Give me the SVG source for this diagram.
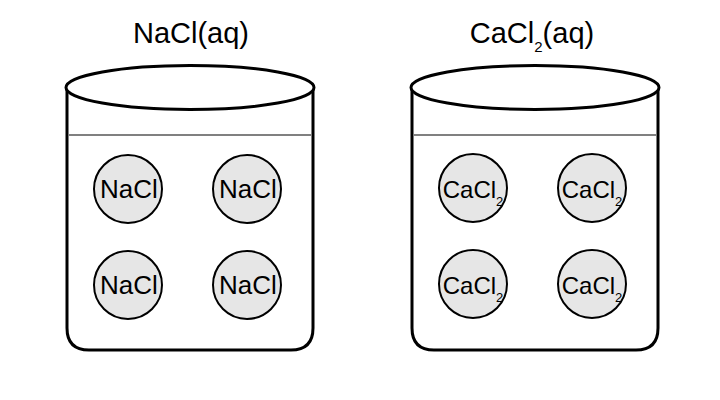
<svg xmlns="http://www.w3.org/2000/svg" width="720" height="400" viewBox="0 0 720 400">
<style>
.wall{fill:#fff;stroke:#000;stroke-width:3}
.rim{fill:#fff;stroke:#000;stroke-width:3}
.water{stroke:#808080;stroke-width:2}
.p{fill:#e6e6e6;stroke:#000;stroke-width:2}
.t{font-family:"Liberation Sans",Arial,sans-serif;fill:#000;text-anchor:middle}
.title{font-size:29px}
.na{font-size:26px}
.ca{font-size:24px}
.sub{font-size:13px}
</style>
<rect width="720" height="400" fill="#fff"/>
<g id="beaker-nacl">
<path class="wall" d="M67,88 V328 Q67,350 89,350 H291 Q313,350 313,328 V88"/>
<line class="water" x1="68" y1="135" x2="312" y2="135"/>
<ellipse class="rim" cx="190" cy="87.5" rx="124" ry="22"/>
<text class="t title" x="191" y="43">NaCl(aq)</text>
</g>
<g id="beaker-cacl2">
<path class="wall" d="M412,88 V328 Q412,350 434,350 H636 Q658,350 658,328 V88"/>
<line class="water" x1="413" y1="135" x2="657" y2="135"/>
<ellipse class="rim" cx="535" cy="87.5" rx="124" ry="22"/>
<text class="t title" x="532" y="43">CaCl<tspan font-size="15" dy="9">2</tspan><tspan dy="-9">(aq)</tspan></text>
</g>
<g id="nacl-1"><circle class="p" cx="128" cy="189" r="34"/><text class="t na" x="129" y="198">NaCl</text></g>
<g id="nacl-2"><circle class="p" cx="247" cy="189" r="34"/><text class="t na" x="248" y="198">NaCl</text></g>
<g id="nacl-3"><circle class="p" cx="128" cy="285" r="34"/><text class="t na" x="129" y="294">NaCl</text></g>
<g id="nacl-4"><circle class="p" cx="247" cy="285" r="34"/><text class="t na" x="248" y="294">NaCl</text></g>
<g id="cacl2-1"><circle class="p" cx="473" cy="188" r="34"/><text class="t ca" x="473" y="198">CaCl<tspan class="sub" dy="8">2</tspan></text></g>
<g id="cacl2-2"><circle class="p" cx="592" cy="188" r="34"/><text class="t ca" x="592" y="198">CaCl<tspan class="sub" dy="8">2</tspan></text></g>
<g id="cacl2-3"><circle class="p" cx="473" cy="284" r="34"/><text class="t ca" x="473" y="294">CaCl<tspan class="sub" dy="8">2</tspan></text></g>
<g id="cacl2-4"><circle class="p" cx="592" cy="284" r="34"/><text class="t ca" x="592" y="294">CaCl<tspan class="sub" dy="8">2</tspan></text></g>
<g id="connectors"/>
</svg>
